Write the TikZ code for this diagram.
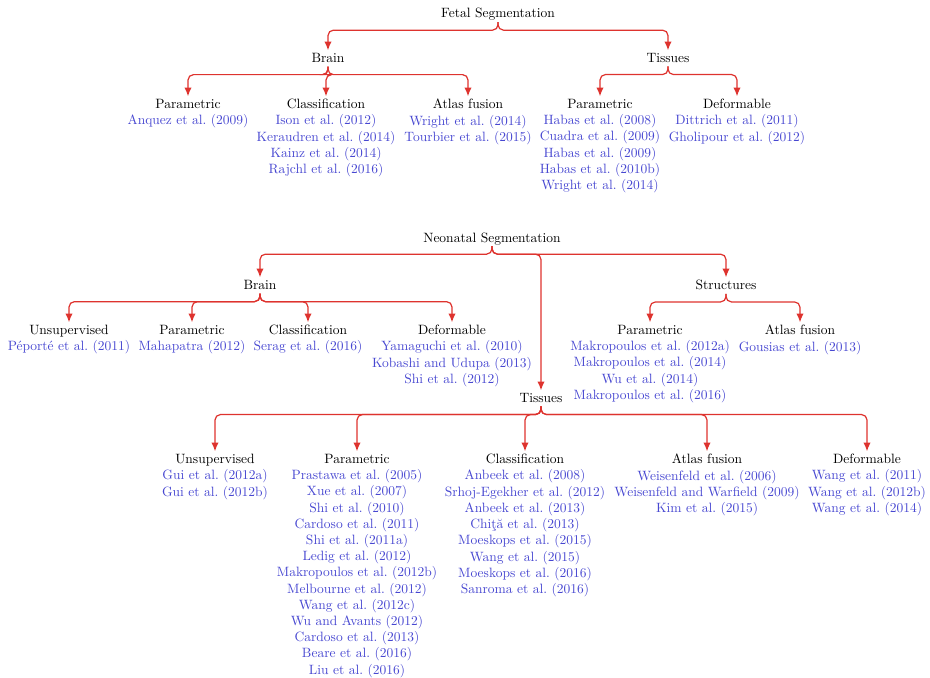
\documentclass[tikz,border=0pt]{standalone}
\usepackage{tikz}
\usetikzlibrary{arrows.meta}
\definecolor{linkred}{rgb}{0.87,0.2,0.18}
\definecolor{citeblue}{rgb}{0.28,0.28,0.82}
\frenchspacing

\begin{document}
\begin{tikzpicture}[x=0.7407pt,y=-0.7407pt,
  head/.style={anchor=base,inner sep=0pt},
  cat/.style={align=center,anchor=north,inner sep=0pt,text=citeblue},
  link/.style={draw=linkred,line width=0.9pt,rounded corners=4pt,
    -{Latex[length=6.5pt,width=5.5pt]},shorten >=2pt}]
  \useasboundingbox (0,0) rectangle (930,678);

  \node[head] (fetal) at (498,18) {Fetal Segmentation};
  \node[cat] (fbrain) at (328,53) {\textcolor{black}{Brain}};
  \node[cat] (ftis) at (668,53) {\textcolor{black}{Tissues}};
  \node[cat] (fbpar) at (188,99) {\textcolor{black}{Parametric}\\ Anquez et al. (2009)};
  \node[cat] (fbcla) at (326,99) {\textcolor{black}{Classification}\\ Ison et al. (2012)\\ Keraudren et al. (2014)\\ Kainz et al. (2014)\\ Rajchl et al. (2016)};
  \node[cat] (fbatl) at (468,99) {\textcolor{black}{Atlas fusion}\\ Wright et al. (2014)\\ Tourbier et al. (2015)};
  \node[cat] (ftpar) at (600,99) {\textcolor{black}{Parametric}\\ Habas et al. (2008)\\ Cuadra et al. (2009)\\ Habas et al. (2009)\\ Habas et al. (2010b)\\ Wright et al. (2014)};
  \node[cat] (ftdef) at (737,99) {\textcolor{black}{Deformable}\\ Dittrich et al. (2011)\\ Gholipour et al. (2012)};

  \draw[link] ([yshift=-3pt]fetal.base) -- ++(0,-6pt) -| (fbrain.north);
  \draw[link] ([yshift=-3pt]fetal.base) -- ++(0,-6pt) -| (ftis.north);
  \draw[link] ([yshift=-3pt]fbrain.base) -- ++(0,-6pt) -| (fbpar.north);
  \draw[link] ([yshift=-3pt]fbrain.base) -- ++(0,-6pt) -| (fbcla.north);
  \draw[link] ([yshift=-3pt]fbrain.base) -- ++(0,-6pt) -| (fbatl.north);
  \draw[link] ([yshift=-3pt]ftis.base) -- ++(0,-6pt) -| (ftpar.north);
  \draw[link] ([yshift=-3pt]ftis.base) -- ++(0,-6pt) -| (ftdef.north);

  \node[head] (neo) at (492,242) {Neonatal Segmentation};
  \node[cat] (nbrain) at (260,280) {\textcolor{black}{Brain}};
  \node[cat] (nstr) at (726,280) {\textcolor{black}{Structures}};
  \node[cat] (ntis) at (541,393) {\textcolor{black}{Tissues}};
  \node[cat] (nbuns) at (69,325) {\textcolor{black}{Unsupervised}\\ P\'eport\'e et al. (2011)};
  \node[cat] (nbpar) at (192,325) {\textcolor{black}{Parametric}\\ Mahapatra (2012)};
  \node[cat] (nbcla) at (308,325) {\textcolor{black}{Classification}\\ Serag et al. (2016)};
  \node[cat] (nbdef) at (452,325) {\textcolor{black}{Deformable}\\ Yamaguchi et al. (2010)\\ Kobashi and Udupa (2013)\\ Shi et al. (2012)};
  \node[cat] (nspar) at (650,325) {\textcolor{black}{Parametric}\\ Makropoulos et al. (2012a)\\ Makropoulos et al. (2014)\\ Wu et al. (2014)\\ Makropoulos et al. (2016)};
  \node[cat] (nsatl) at (800,325) {\textcolor{black}{Atlas fusion}\\ Gousias et al. (2013)};
  \node[cat] (ntuns) at (215,454) {\textcolor{black}{Unsupervised}\\ Gui et al. (2012a)\\ Gui et al. (2012b)};
  \node[cat] (ntpar) at (357,454) {\textcolor{black}{Parametric}\\ Prastawa et al. (2005)\\ Xue et al. (2007)\\ Shi et al. (2010)\\ Cardoso et al. (2011)\\ Shi et al. (2011a)\\ Ledig et al. (2012)\\ Makropoulos et al. (2012b)\\ Melbourne et al. (2012)\\ Wang et al. (2012c)\\ Wu and Avants (2012)\\ Cardoso et al. (2013)\\ Beare et al. (2016)\\ Liu et al. (2016)};
  \node[cat] (ntcla) at (525,454) {\textcolor{black}{Classification}\\ Anbeek et al. (2008)\\ Srhoj-Egekher et al. (2012)\\ Anbeek et al. (2013)\\ Chi\c{t}\u{a} et al. (2013)\\ Moeskops et al. (2015)\\ Wang et al. (2015)\\ Moeskops et al. (2016)\\ Sanroma et al. (2016)};
  \node[cat] (ntatl) at (707,454) {\textcolor{black}{Atlas fusion}\\ Weisenfeld et al. (2006)\\ Weisenfeld and Warfield (2009)\\ Kim et al. (2015)};
  \node[cat] (ntdef) at (867,454) {\textcolor{black}{Deformable}\\ Wang et al. (2011)\\ Wang et al. (2012b)\\ Wang et al. (2014)};

  \draw[link] ([yshift=-3pt]neo.base) -- ++(0,-6pt) -| (nbrain.north);
  \draw[link] ([yshift=-3pt]neo.base) -- ++(0,-6pt) -| (nstr.north);
  \draw[link] ([yshift=-3pt]neo.base) -- ++(0,-6pt) -| (ntis.north);
  \draw[link] ([yshift=-3pt]nbrain.base) -- ++(0,-6pt) -| (nbuns.north);
  \draw[link] ([yshift=-3pt]nbrain.base) -- ++(0,-6pt) -| (nbpar.north);
  \draw[link] ([yshift=-3pt]nbrain.base) -- ++(0,-6pt) -| (nbcla.north);
  \draw[link] ([yshift=-3pt]nbrain.base) -- ++(0,-6pt) -| (nbdef.north);
  \draw[link] ([yshift=-3pt]nstr.base) -- ++(0,-6pt) -| (nspar.north);
  \draw[link] ([yshift=-3pt]nstr.base) -- ++(0,-6pt) -| (nsatl.north);
  \draw[link] ([yshift=-3pt]ntis.base) -- ++(0,-6pt) -| (ntuns.north);
  \draw[link] ([yshift=-3pt]ntis.base) -- ++(0,-6pt) -| (ntpar.north);
  \draw[link] ([yshift=-3pt]ntis.base) -- ++(0,-6pt) -| (ntcla.north);
  \draw[link] ([yshift=-3pt]ntis.base) -- ++(0,-6pt) -| (ntatl.north);
  \draw[link] ([yshift=-3pt]ntis.base) -- ++(0,-6pt) -| (ntdef.north);
\end{tikzpicture}
\end{document}
